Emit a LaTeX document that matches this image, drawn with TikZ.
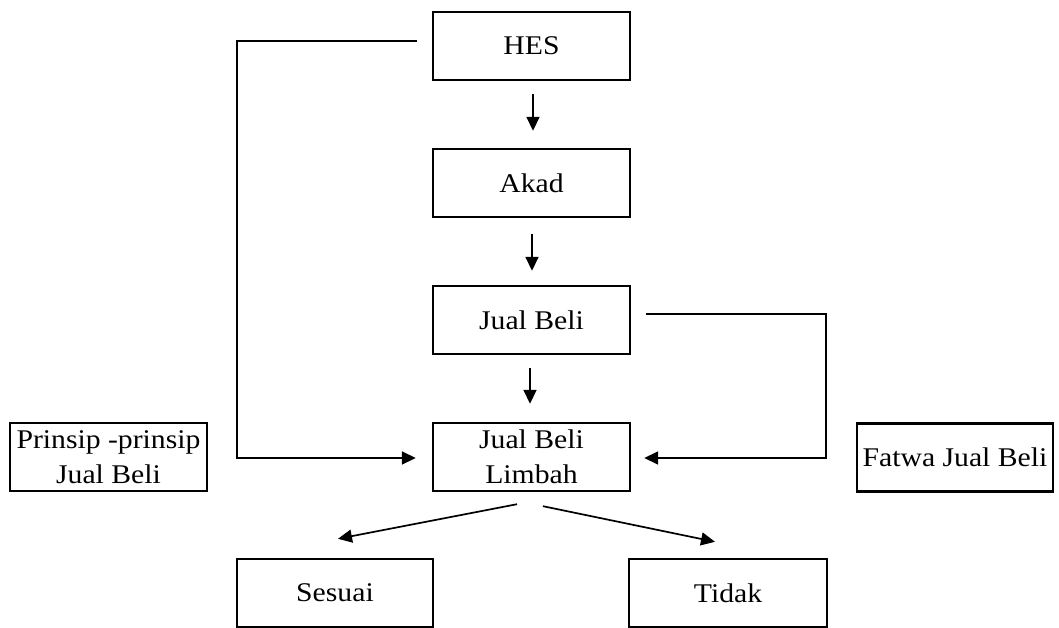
\documentclass[tikz,border=0pt]{standalone}
\usepackage{fontspec}
\setmainfont[FakeStretch=1.1]{Liberation Serif}
\usetikzlibrary{arrows.meta}
\tikzset{
  box/.style={draw, line width=2.4pt, minimum width=197pt, minimum height=68pt, inner sep=0pt, align=center,
    font=\fontsize{27}{35}\selectfont},
  conn/.style={line width=1.7pt},
  arr/.style={conn, -{Triangle[length=14pt,width=13pt]}}
}
\begin{document}
\begin{tikzpicture}[x=1pt,y=-1pt]
\useasboundingbox (0,0) rectangle (1059,628);
\node[box] (hes) at (531.5,46) {HES};
\node[box] (akad) at (531.5,183) {Akad};
\node[box] (jb) at (531.5,320) {Jual Beli};
\node[box] (jbl) at (531.5,457) {Jual Beli\\Limbah};
\node[box] (prinsip) at (108.5,457) {Prinsip -prinsip\\Jual Beli};
\node[box, minimum width=196pt] (fatwa) at (955,457.5) {Fatwa Jual Beli};
\node[box, minimum width=196pt] (sesuai) at (335,593) {Sesuai};
\node[box, minimum width=198pt] (tidak) at (728,593) {Tidak};
\coordinate (L) at (237,458);
\coordinate (R) at (826,458);
\draw[arr] ([shift={(1.5pt,-13pt)}]hes.south) -- ([shift={(1.5pt,17pt)}]akad.north);
\draw[arr] ([shift={(0.5pt,-16pt)}]akad.south) -- ([shift={(0.5pt,14pt)}]jb.north);
\draw[arr] ([shift={(-1.5pt,-13pt)}]jb.south) -- ([shift={(-1.5pt,18pt)}]jbl.north);
\draw[arr] ([shift={(-15pt,5pt)}]hes.west) -| (L) -- ([xshift=-16pt]jbl.west |- L);
\draw[arr] ([shift={(15pt,6pt)}]jb.east) -| (R) -- ([xshift=13pt]jbl.east |- R);
\draw[arr] ([shift={(-14.5pt,-12pt)}]jbl.south) -- ([shift={(3pt,19pt)}]sesuai.north);
\draw[arr] ([shift={(11.5pt,-14pt)}]jbl.south) -- ([shift={(-13pt,16pt)}]tidak.north);
\end{tikzpicture}
\end{document}
